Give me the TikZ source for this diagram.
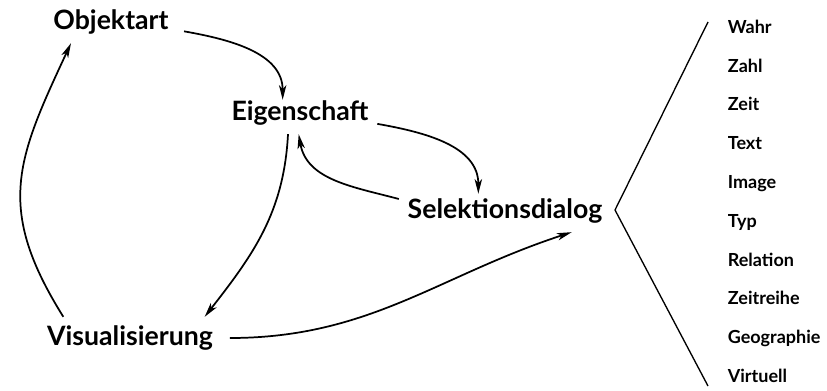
\documentclass[tikz,border=0pt]{standalone}
\usepackage{fontspec}
\setmainfont{Lato}
\usepackage{tikz}
\usetikzlibrary{arrows.meta,positioning}

\tikzset{
  haupt/.style={font=\bfseries\fontsize{20}{24}\selectfont, inner sep=6pt},
  typ/.style={font=\bfseries\fontsize{13.5}{15}\selectfont, inner sep=0pt, text height=1.6ex, text depth=0.3ex},
}

\begin{document}
\begin{tikzpicture}[x=0.75pt,y=0.75pt,>={Stealth[length=11pt,width=5.5pt,inset=3pt]},line width=1.3pt,node distance=29.1pt,on grid]
			\useasboundingbox (0,0) rectangle (827,390);
			\node[haupt] (obj) at (111,368) {Objektart};
			\node[haupt] (eig) at (300,277) {Eigenschaft};
			\node[haupt] (sel) at (505,179) {Selektionsdialog};
			\node[haupt] (vis) at (130,52) {Visualisierung};
			\node[typ, anchor=west] (wahr) at (727,361) {Wahr};
			\node[typ] (zahl) [below=of wahr.west, anchor=west] {Zahl};
			\node[typ] (zeit) [below=of zahl.west, anchor=west] {Zeit};
			\node[typ] (text) [below=of zeit.west, anchor=west] {Text};
			\node[typ] (image) [below=of text.west, anchor=west] {Image};
			\node[typ] (typ) [below=of image.west, anchor=west] {Typ};
			\node[typ] (relation) [below=of typ.west, anchor=west] {Relation};
			\node[typ] (zeitreihe) [below=of relation.west, anchor=west] {Zeitreihe};
			\node[typ] (geo) [below=of zeitreihe.west, anchor=west] {Geographie};
			\node[typ] (virtuell) [below=of geo.west, anchor=west] {Virtuell};
			\coordinate (br_top) at (708,368);
			\coordinate (br_tip) at (615,180);
			\coordinate (br_bot) at (708,4);
			\draw[line width=1pt] (br_top) -- (br_tip) -- (br_bot);
			\path[->]
			([xshift=5pt]obj.-8) edge [out=-10, in=90] ([xshift=-13pt,yshift=-6pt]eig.north)
			(eig.-8) edge [out=-10, in=90] ([xshift=-20pt,yshift=-3pt]sel.north)
			([yshift=9pt]sel.west) edge [out=165, in=-80] ([xshift=-1pt]eig.south)
			([xshift=-9pt]eig.south) edge [out=-93, in=52] ([xshift=56pt]vis.north)
			([xshift=6pt]vis.east) edge [out=0, in=198] ([xshift=50pt]sel.south)
			([xshift=-50pt]vis.north) edge [out=122, in=-115, looseness=1.2] ([xshift=-30pt]obj.south);
		\end{tikzpicture}
\end{document}
